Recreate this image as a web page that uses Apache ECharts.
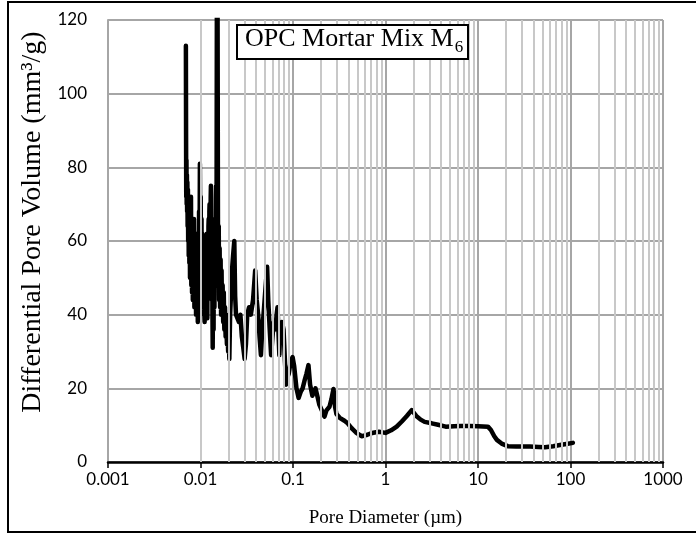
<!DOCTYPE html>
<html>
<head>
<meta charset="utf-8">
<script src="https://cdn.jsdelivr.net/npm/echarts@6/dist/echarts.min.js"></script>
<style>html,body{margin:0;padding:0;background:#fff}#c{width:696px;height:535px}</style>
</head>
<body>
<div id="c"></div>
<script>
// Pore diameter (µm)
const diameters = [
0.00695,0.00698,0.00701,0.00705,0.00709,0.00713,0.00717,0.00721,0.00726,0.00731,
0.00736,0.00741,0.00746,0.00752,0.00758,0.00764,0.00770,0.00776,0.00782,0.00789,
0.00796,0.00803,0.00810,0.00818,0.00826,0.00834,0.00842,0.00850,0.00859,0.00868,
0.00877,0.00886,0.00895,0.00905,0.00915,0.00925,0.00935,0.00945,0.00955,0.00965,
0.00975,0.00985,
0.00995,0.01000,0.01005,0.01010,0.01015,0.01020,0.01026,0.01031,0.01037,0.01042,
0.01048,0.01054,0.01060,0.01066,0.01072,0.01078,0.01084,0.01090,0.01096,0.01102,
0.01108,0.01114,0.01120,0.01127,0.01133,0.01140,0.01146,0.01152,0.01159,0.01165,
0.01172,0.01178,0.01185,0.01191,0.01198,0.01205,0.01212,0.01219,0.01226,0.01233,
0.01240,0.01247,0.01254,0.01261,0.01268,0.01275,0.01282,0.01289,0.01296,0.01303,
0.01310,0.01318,0.01325,0.01332,0.01340,0.01347,0.01355,0.01362,0.01370,0.01377,
0.01385,0.01392,0.01400,0.01407,0.01415,0.01422,0.01430,0.01437,0.01445,0.01452,
0.01460,0.01467,0.01475,0.01482,0.01490,
0.01505,0.01525,
0.01545,0.01552,0.01560,0.01567,0.01575,0.01582,0.01590,0.01600,0.01610,0.01620,
0.01630,0.01640,0.01650,0.01660,0.01670,0.01680,0.01690,0.01700,0.01710,0.01722,
0.01735,0.01748,0.01760,0.01772,0.01785,0.01798,0.01810,0.01825,0.01840,0.01855,
0.01870,0.01885,0.01900,0.01915,0.01930,0.01945,0.01960,0.01975,0.01990,0.02005,
0.02020,0.02035,0.02050,
0.02090,0.02140,0.02190,0.02250,0.02320,0.02370,0.02420,0.02500,0.02600,0.02700,
0.02800,0.02900,0.03000,0.03100,0.03200,0.03350,0.03500,0.03700,0.03900,0.04050,
0.04200,0.04350,0.04500,0.04650,0.04800,0.05000,0.05250,0.05400,0.05600,0.05800,
0.06000,0.06200,0.06450,0.06650,0.06800,0.06950,0.07120,0.07300,0.07600,0.07900,
0.08200,0.08420,0.08700,0.09000,0.09400,0.09900,0.10300,0.10900,0.11500,0.12100,
0.12700,0.13300,0.14000,0.14700,0.15300,0.16200,0.16800,0.17500,0.18300,0.19300,
0.20500,0.21900,0.23000,0.24800,0.26000,0.27400,0.28500,0.29500,0.32000,0.36000,
0.39000,0.43000,0.48000,0.55100,0.62000,0.70000,0.76200,0.85000,1.00000,1.15000,
1.32000,1.50000,1.70000,1.92000,2.15000,2.40000,2.65000,3.16000,3.70000,4.48000,
5.50000,6.50000,8.15000,10.0000,12.8000,13.8000,15.0000,16.0000,18.0000,21.0000,
26.0000,36.4000,45.0000,53.0000,65.0000,76.9000,90.0000,106.000
];
// Differential pore volume (mm³/g)
const poreVolume = [
113,90,72,82,70,78,68,76,64,74,
60,72,56,70,54,68,50,66,52,72,
48,64,46,62,44,60,48,66,42,58,
44,62,40,56,42,60,38,55,44,68,
52,81,
58,70,72,52,48,64,66,46,44,60,
62,45,42,56,58,41,40,54,56,40,
38,52,54,46,44,58,60,44,42,60,
62,41,39,56,58,47,45,64,66,50,
48,68,70,54,52,62,64,72,75,58,
56,46,44,58,60,40,31,50,52,38,
36,56,58,44,42,64,66,52,50,60,
62,72,75,62,60,
135,140,
62,55,48,58,64,52,44,52,58,48,
42,50,55,46,40,47,52,45,40,44,
48,42,38,43,46,40,36,40,42,37,
34,38,40,35,32,36,38,33,30,33,
35,31,28,
40,46,52,56,60,45,40,40,38,40,
34,31,28,32,40,42,40,44,52,44,
40,34,29,36,40,46,53,44,36,29,
34,38,36,40,42,36,29,37,38,36,
27,21,23,24,27,28.5,26,20,17.4,19,
20,22,24,26.3,21,18,17.8,20,18,15.5,
14,12.3,14,15,17,19.8,15,13,12,11.2,
10.5,9.2,8,7,7.3,7.8,8,8.2,7.9,8.6,
9.6,11,12.5,14.1,12.5,11.5,10.9,10.5,10.1,9.6,
9.7,9.8,9.8,9.7,9.6,8.7,7,6,5,4.3,
4.2,4.2,4.1,4.0,4.3,4.6,4.9,5.2
];
const xTickLabels = ['0.001','0.01','0.1','1','10','100','1000'];
const yTicks = [0,20,40,60,80,100,120];

const seriesData = diameters.map((d,i)=>[d,poreVolume[i]]);
const minorLines = [];
for (let e=-3;e<3;e++){ for(let k=2;k<=9;k++){ minorLines.push({xAxis: k*Math.pow(10,e)}); } }

const chart = echarts.init(document.getElementById('c'), null, {renderer:'canvas'});
chart.setOption({
  animation:false,
  backgroundColor:'#fff',
  title:{
    text:'{m|OPC Mortar Mix M}{s|6}',
    left:237, top:21,
    padding:[2,5,3,8],
    borderColor:'#000', borderWidth:2, backgroundColor:'#fff',
    textStyle:{rich:{
      m:{fontFamily:'Liberation Serif',fontSize:26,fontWeight:'normal',color:'#000',lineHeight:33},
      s:{fontFamily:'Liberation Serif',fontSize:17,fontWeight:'normal',color:'#000',verticalAlign:'bottom',padding:[12,0,0,1],lineHeight:33}
    }},
    z:10
  },
  grid:{left:108,right:33,top:20,bottom:73,containLabel:false},
  xAxis:{
    type:'log', logBase:10, min:0.001, max:1000,
    name:'Pore Diameter (µm)', nameLocation:'middle', nameGap:47,
    nameTextStyle:{fontFamily:'Liberation Serif',fontSize:19,color:'#000'},
    axisLine:{show:true,onZero:false,lineStyle:{color:'#000',width:2.5}},
    axisTick:{show:true,length:6,lineStyle:{color:'#000',width:1.5}},
    axisLabel:{fontFamily:'Lato',fontSize:17,color:'#000',margin:9,
      formatter:v=>{const e=Math.round(Math.log10(v));return xTickLabels[e+3];}},
    splitLine:{show:true,lineStyle:{color:'#a6a6a6',width:2}}
  },
  yAxis:{
    type:'value', min:0, max:120, interval:20,
    name:'Differential Pore Volume (mm³/g)', nameLocation:'middle', nameGap:57,
    nameTextStyle:{fontFamily:'Liberation Serif',fontSize:28,color:'#000',padding:[0,0,0,38]},
    axisLine:{show:true,lineStyle:{color:'#a6a6a6',width:2}},
    axisTick:{show:false},
    axisLabel:{fontFamily:'Lato',fontSize:17,color:'#000',margin:21,
      formatter:v=>yTicks.indexOf(v)>=0?String(v):''},
    splitLine:{show:true,lineStyle:{color:'#a6a6a6',width:2}}
  },
  series:[
    {type:'line',data:[],z:1,silent:true,
     markLine:{silent:true,symbol:['none','none'],label:{show:false},
       lineStyle:{color:'#c8c8c8',width:2,type:'solid'},emphasis:{disabled:true},
       data:minorLines}},
    {type:'line',data:seriesData,showSymbol:false,symbol:'none',z:3,clip:true,
     lineStyle:{color:'#000',width:4.5,join:'round',cap:'round'}}
  ],
  graphic:[
    {type:'polyline',shape:{points:[[696,2],[8,2],[8,532],[696,532]]},style:{stroke:'#000',lineWidth:2,fill:null},silent:true}
  ]
});
</script>
</body>
</html>
